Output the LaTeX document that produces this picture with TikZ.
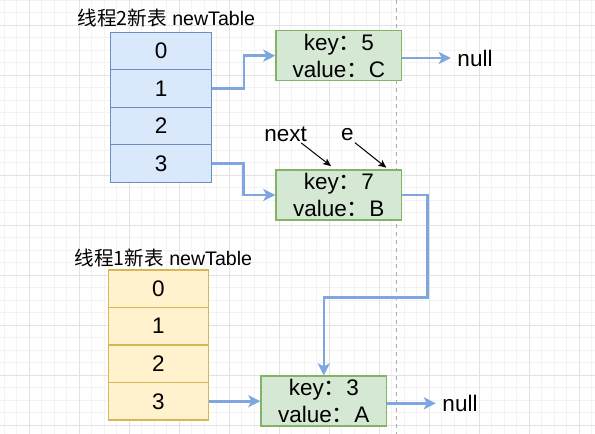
\documentclass[tikz,border=0pt]{standalone}
\usepackage{fontspec}
\setmainfont{Liberation Sans}
\newfontfamily\cjk{Noto Sans CJK SC}
\usepackage{tikz}
\usetikzlibrary{arrows.meta}

\definecolor{gridminor}{HTML}{F3F3F3}
\definecolor{gridmajor}{HTML}{E2E2E2}
\definecolor{bluefill}{HTML}{DAE8FC}
\definecolor{blueline}{HTML}{6C8EBF}
\definecolor{yellowfill}{HTML}{FFF2CC}
\definecolor{yellowline}{HTML}{D6B656}
\definecolor{greenfill}{HTML}{D5E8D4}
\definecolor{greenline}{HTML}{82B366}
\definecolor{linkblue}{HTML}{7EA6E0}
\definecolor{dashgray}{HTML}{ABABAB}

\newcommand{\cellfont}{\fontsize{22.5}{26.7}\selectfont}
\newcommand{\titlefont}{\fontsize{19.6}{22}\selectfont}

\begin{document}
\begin{tikzpicture}[x=1pt,y=-1pt,
    link/.style={draw=linkblue,line width=2.5pt,-{Stealth[length=12pt,width=12pt,inset=3pt]}},
    pointer/.style={draw=black,line width=1pt,-{Stealth[length=8pt,width=7pt,inset=2pt]}}]
    \useasboundingbox[fill=white] (0,0) rectangle (595,434);

    \begin{scope}[line width=0.8pt]
        \foreach \i in {0,...,47} \draw[gridminor] ({4.3+12.5*\i},0) -- ++(0,434);
        \foreach \j in {0,...,34} \draw[gridminor] (0,{0.3+12.5*\j}) -- ++(595,0);
        \foreach \i in {0,...,11} \draw[gridmajor] ({29.3+50*\i},0) -- ++(0,434);
        \foreach \j in {0,...,8} \draw[gridmajor] (0,{25.3+50*\j}) -- ++(595,0);
    \end{scope}
    \draw[dashgray, line width=1pt, dash pattern=on 4pt off 4pt] (396.5,0) -- (396.5,434);

    \begin{scope}[every node/.style={font=\titlefont,inner sep=0pt}]
        \node (title2) at (166.3,18.3) {{\cjk 线程2新表} newTable};
        \node (title1) at (163.3,258.3) {{\cjk 线程1新表} newTable};
    \end{scope}

    \begin{scope}[every node/.style={fill=bluefill,draw=blueline,line width=1.25pt,
                  minimum width=101pt,minimum height=37.5pt,inner sep=0pt,font=\cellfont}]
        \node (t2r0) at (161.2,51.05) {0};
        \node (t2r1) at (161.2,88.55) {1};
        \node (t2r2) at (161.2,126.05) {2};
        \node (t2r3) at (161.2,163.55) {3};
    \end{scope}

    \begin{scope}[every node/.style={fill=yellowfill,draw=yellowline,line width=1.25pt,
                  minimum width=100pt,minimum height=37.5pt,inner sep=0pt,font=\cellfont}]
        \node (t1r0) at (158.3,288.75) {0};
        \node (t1r1) at (158.3,326.25) {1};
        \node (t1r2) at (158.3,363.75) {2};
        \node (t1r3) at (158.3,401.25) {3};
    \end{scope}

    \begin{scope}[every node/.style={fill=greenfill,draw=greenline,line width=1.25pt,align=center,
                  minimum width=125.7pt,minimum height=50pt,inner sep=0pt,font=\cellfont}]
        \node (C) at (338.8,55.7) {key{\cjk ：}5\\value{\cjk ：}C};
        \node (B) at (338.8,195) {key{\cjk ：}7\\value{\cjk ：}B};
        \node (A) at (323.8,401) {key{\cjk ：}3\\value{\cjk ：}A};
    \end{scope}

    \begin{scope}[every node/.style={font=\cellfont,inner xsep=6.5pt,inner ysep=0pt}]
        \node (nullC) at (475,58) {null};
        \node (nullA) at (460,403.3) {null};
        \node[inner sep=0pt] (next) at (285.7,134.3) {next};
        \node[inner sep=0pt] (e) at (347.5,134.3) {e};
    \end{scope}

    \draw[link] (t2r1.east) -- ++(31.6,0) |- (C.west);
    \draw[link] (t2r3.east) -- ++(31,0) |- (B.west);
    \draw[link] (t1r3.east) -- (t1r3.east -| A.west);
    \draw[link] (B.east) -| ++(25,102.7) -| (A.north);
    \draw[link] (C.east |- nullC.west) -- (nullC.west);
    \draw[link] (A.east |- nullA.west) -- (nullA.west);

    \draw[pointer] ([shift={(-6,1)}]next.south east) -- ([shift={(-7.8,-3.3)}]B.north);
    \draw[pointer] ([shift={(1,2)}]e.south east) -- ([shift={(-16,-1.7)}]B.north east);
\end{tikzpicture}
\end{document}
